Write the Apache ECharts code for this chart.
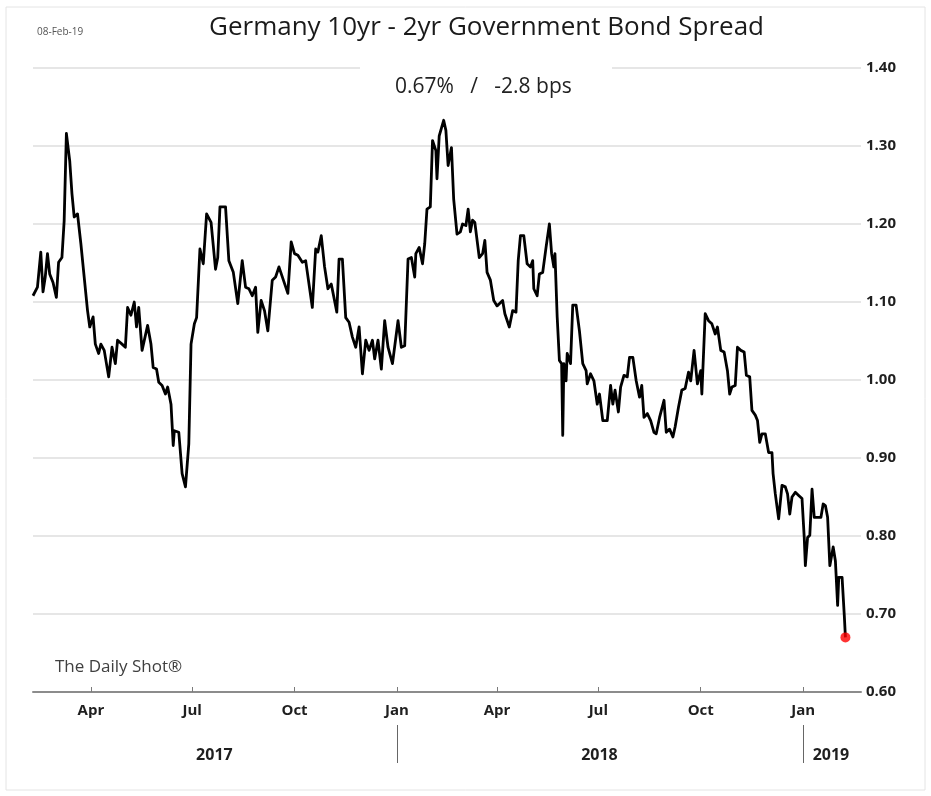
<!DOCTYPE html>
<html>
<head>
<meta charset="utf-8">
<title>Germany 10yr - 2yr Government Bond Spread</title>
<script src="https://cdn.jsdelivr.net/npm/echarts@6/dist/echarts.min.js"></script>
<style>
  html, body { margin: 0; padding: 0; background: #ffffff; }
  #chart { width: 931px; height: 796px; }
</style>
</head>
<body>
<div id="chart"></div>
<script>
// Daily spread observations, stored as day offsets from the first date
const startDate = [2017, 1, 8]; // 8 Feb 2017 (month is zero-based)
const axisEndOffset = 744;      // axis runs a little past the last observation

const dayOffsets = [
  0, 4, 7, 9, 11, 13, 15, 18, 21, 23, 26, 28, 30, 33, 35, 37, 40, 43, 46, 49,
  51, 54, 56, 59, 61, 64, 68, 71, 74, 76, 80, 83, 85, 88, 91, 93, 95, 98, 103, 106,
  108, 111, 113, 116, 119, 121, 124, 126, 127, 131, 134, 137, 140, 142, 145,
  147, 150, 153, 156, 160, 164, 166, 168, 173, 176, 180, 184, 188, 191, 194, 197,
  200, 202, 205, 208, 211, 215, 218, 221, 225, 229, 232, 235, 238, 242, 245, 251,
  254, 256, 259, 262, 265, 268, 273, 275, 278, 281, 284,
  287, 290, 293, 296, 299, 302, 305, 307, 310, 313, 316, 319, 323, 328, 331, 334,
  337, 340, 343, 344, 347, 350, 352, 354, 357, 359, 362, 363, 365, 369, 371, 373,
  376, 378, 381, 384, 386, 389, 391, 393, 395, 397, 401, 404, 406, 408, 411, 414,
  417, 422, 424, 428, 431, 434, 436,
  438, 441, 444, 447, 449, 450, 453, 455, 458, 461, 464, 466, 468, 469, 471, 473,
  475, 476, 477, 479, 480, 483, 485, 488, 491, 494, 497, 498, 501, 504, 507, 509,
  512, 516, 519, 521, 523, 526, 528, 531, 534, 536, 539, 542, 545, 547, 549, 552,
  555, 558, 560, 563, 567, 569, 572, 575, 577, 580, 583,
  586, 589, 591, 594, 597, 600, 601, 604, 607, 610, 613, 615, 618, 621, 624, 626,
  628, 631, 633, 636, 639, 641, 644, 646, 649, 651, 653, 655, 658, 661, 664, 665,
  667, 670, 673, 676, 678, 680, 682, 685, 688, 691, 693, 694, 696, 698, 700, 702,
  705, 708, 710, 712, 714, 716, 719, 721, 723, 724, 727, 729, 730
];

const spread = [
  1.108, 1.119, 1.164, 1.113, 1.132, 1.162, 1.136, 1.125, 1.106, 1.151, 1.157, 1.204, 1.316, 1.281, 1.239, 1.209, 1.213, 1.175, 1.132, 1.089,
  1.068, 1.081, 1.046, 1.034, 1.046, 1.038, 1.004, 1.042, 1.021, 1.051, 1.046, 1.042, 1.093, 1.083, 1.100, 1.068, 1.093, 1.038, 1.070, 1.046,
  1.016, 1.014, 0.997, 0.993, 0.982, 0.991, 0.969, 0.916, 0.935, 0.933, 0.880, 0.863, 0.918, 1.046, 1.072,
  1.080, 1.168, 1.149, 1.213, 1.202, 1.142, 1.157, 1.222, 1.222, 1.153, 1.138, 1.098, 1.153, 1.119, 1.117, 1.108,
  1.119, 1.061, 1.102, 1.089, 1.063, 1.128, 1.132, 1.145, 1.128, 1.111, 1.177, 1.162, 1.160, 1.151, 1.153, 1.093,
  1.168, 1.164, 1.185, 1.145, 1.117, 1.123, 1.087, 1.155, 1.155, 1.080, 1.074,
  1.055, 1.042, 1.068, 1.008, 1.051, 1.038, 1.051, 1.027, 1.051, 1.014, 1.076, 1.042, 1.021, 1.076, 1.042, 1.044,
  1.155, 1.157, 1.132, 1.162, 1.170, 1.149, 1.175, 1.219, 1.222, 1.307, 1.294, 1.258, 1.313, 1.333, 1.320, 1.275,
  1.298, 1.232, 1.187, 1.190, 1.200, 1.198, 1.219, 1.190, 1.205, 1.202, 1.157, 1.162, 1.179, 1.138, 1.128, 1.102,
  1.095, 1.102, 1.085, 1.068, 1.089, 1.087, 1.153,
  1.185, 1.185, 1.149, 1.145, 1.153, 1.117, 1.108, 1.136, 1.138, 1.170, 1.200, 1.162, 1.145, 1.162, 1.081, 1.025,
  1.021, 0.929, 1.021, 0.999, 1.034, 1.021, 1.096, 1.096, 1.063, 1.021, 1.012, 0.995, 1.008, 0.999, 0.969, 0.982,
  0.948, 0.948, 0.993, 0.969, 0.987, 0.959, 0.991, 1.006, 1.004, 1.029, 1.029, 0.999, 0.978, 0.993, 0.952, 0.957,
  0.948, 0.933, 0.931, 0.952, 0.974, 0.933, 0.937, 0.927, 0.940, 0.965, 0.987,
  0.989, 1.010, 0.999, 1.038, 0.995, 1.012, 0.982, 1.085, 1.076, 1.072, 1.059, 1.068, 1.038, 1.036, 1.012, 0.982,
  0.991, 0.993, 1.042, 1.038, 1.036, 1.006, 1.004, 0.961, 0.955, 0.948, 0.920, 0.931, 0.931, 0.907, 0.907, 0.880,
  0.854, 0.822, 0.865, 0.863, 0.854, 0.828, 0.850, 0.856, 0.852, 0.848, 0.798, 0.762, 0.798, 0.801, 0.860, 0.824,
  0.824, 0.824, 0.841, 0.839, 0.824, 0.762, 0.786, 0.768, 0.711, 0.747, 0.747, 0.698, 0.670
];

// Axis ticks and labels
const monthTicks = [[2017, 3, 1], [2017, 6, 1], [2017, 9, 1], [2018, 0, 1], [2018, 3, 1], [2018, 6, 1], [2018, 9, 1], [2019, 0, 1]];
const monthNames = ['Jan', 'Feb', 'Mar', 'Apr', 'May', 'Jun', 'Jul', 'Aug', 'Sep', 'Oct', 'Nov', 'Dec'];
const yearDividers = [[2018, 0, 1], [2019, 0, 1]];
const yearLabelDates = [[2017, 6, 21], [2018, 6, 2], [2019, 0, 26]];
const yTicks = { min: 0.6, max: 1.4, interval: 0.1 };

const chartDate = '08-Feb-19';
const titleText = 'Germany 10yr - 2yr Government Bond Spread';
const lastChange = '-2.8 bps';
const sourceText = 'The Daily Shot®';

const FONT = "'Open Sans', 'Liberation Sans', sans-serif";

function dateOf(offset) {
  return new Date(startDate[0], startDate[1], startDate[2] + offset).getTime();
}
function ts(parts) {
  return new Date(parts[0], parts[1], parts[2]).getTime();
}

const lineData = dayOffsets.map((d, i) => [dateOf(d), spread[i]]);
const lastPoint = lineData[lineData.length - 1];
const xMin = dateOf(0);
const xMax = dateOf(axisEndOffset);

const subtitle = spread[spread.length - 1].toFixed(2) + '%   /   ' + lastChange;

const chart = echarts.init(document.getElementById('chart'), null, { renderer: 'canvas' });

// Timestamps on a numeric axis so ticks can sit exactly on chosen dates
chart.setOption({
  backgroundColor: '#ffffff',
  animation: false,
  textStyle: { fontFamily: FONT },
  title: [
    {
      text: titleText,
      left: 204,
      top: 10,
      textStyle: { fontFamily: FONT, fontSize: 26, fontWeight: 'normal', color: '#1a1a1a' }
    },
    {
      text: chartDate,
      left: 32,
      top: 22,
      textStyle: { fontFamily: FONT, fontSize: 10, fontWeight: 'normal', color: '#555555' }
    },
    {
      text: subtitle,
      left: 390,
      top: 72,
      textStyle: { fontFamily: FONT, fontSize: 21, fontWeight: 'normal', color: '#222222' }
    },
    {
      text: sourceText,
      left: 50,
      top: 654,
      textStyle: { fontFamily: FONT, fontSize: 17, fontWeight: 'normal', color: '#404040' }
    }
  ],
  graphic: [
    {
      type: 'rect',
      z: 100,
      silent: true,
      shape: { x: 6, y: 7, width: 919, height: 783 },
      style: { fill: 'none', stroke: '#e4e4e4', lineWidth: 1 }
    },
    {
      // clears the top gridline behind the latest reading
      type: 'rect',
      z: 50,
      silent: true,
      shape: { x: 360, y: 62, width: 252, height: 12 },
      style: { fill: '#ffffff' }
    }
  ],
  grid: { left: 33, right: 70, top: 68, bottom: 104, containLabel: false },
  xAxis: [
    {
      type: 'value',
      min: xMin,
      max: xMax,
      position: 'bottom',
      axisLine: { show: true, lineStyle: { color: '#8c8c8c', width: 2 } },
      axisTick: {
        show: true,
        inside: true,
        length: 5,
        customValues: monthTicks.map(ts),
        lineStyle: { color: '#7a7a7a', width: 1 }
      },
      axisLabel: {
        show: true,
        customValues: monthTicks.map(ts),
        formatter: (v) => monthNames[new Date(v).getMonth()],
        margin: 11,
        fontFamily: FONT,
        fontSize: 15,
        fontWeight: 'bold',
        color: '#1f1f1f',
        hideOverlap: false
      },
      splitLine: { show: false }
    },
    {
      type: 'value',
      min: xMin,
      max: xMax,
      position: 'bottom',
      offset: 33,
      axisLine: { show: false },
      axisTick: {
        show: true,
        inside: false,
        length: 38,
        customValues: yearDividers.map(ts),
        lineStyle: { color: '#666666', width: 1 }
      },
      axisLabel: {
        show: true,
        customValues: yearLabelDates.map(ts),
        formatter: (v) => String(new Date(v).getFullYear()),
        margin: 22,
        fontFamily: FONT,
        fontSize: 16,
        fontWeight: 'bold',
        color: '#1f1f1f',
        hideOverlap: false
      },
      splitLine: { show: false }
    }
  ],
  yAxis: {
    type: 'value',
    position: 'right',
    min: yTicks.min,
    max: yTicks.max,
    interval: yTicks.interval,
    axisLine: { show: false },
    axisTick: { show: false },
    axisLabel: {
      formatter: (v) => v.toFixed(2),
      margin: 5,
      fontFamily: FONT,
      fontSize: 15,
      fontWeight: 'bold',
      color: '#1f1f1f'
    },
    splitLine: {
      show: true,
      lineStyle: { color: '#e6e6e6', width: 2 }
    }
  },
  series: [
    {
      name: 'Spread',
      type: 'line',
      xAxisIndex: 0,
      data: lineData,
      showSymbol: false,
      symbol: 'none',
      smooth: false,
      lineStyle: { color: '#000000', width: 2.8, join: 'round' },
      z: 3
    },
    {
      name: 'Latest',
      type: 'scatter',
      xAxisIndex: 0,
      data: [lastPoint],
      symbol: 'circle',
      symbolSize: 10,
      itemStyle: { color: '#ff0000' },
      z: 5
    }
  ]
});
</script>
</body>
</html>
